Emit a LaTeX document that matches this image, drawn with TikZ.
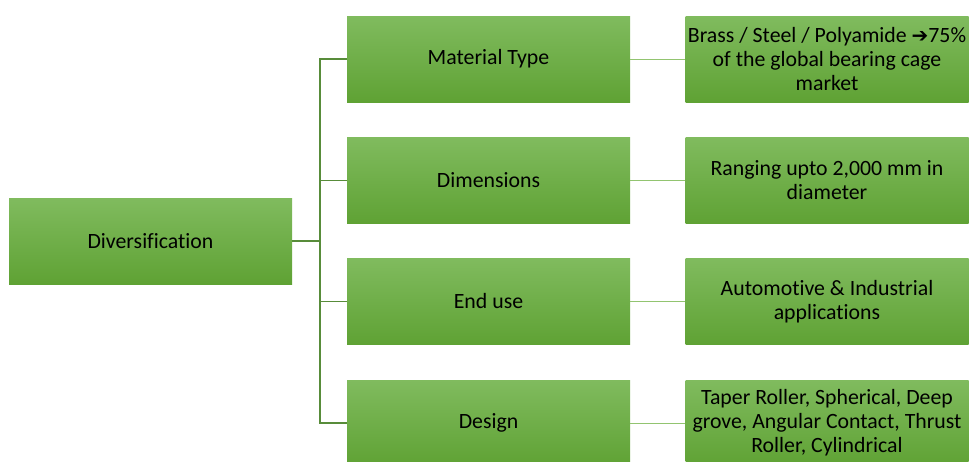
\documentclass[tikz,border=0pt]{standalone}
\usepackage{fontspec}
\setmainfont{Carlito}[Ligatures=CommonOff]
\newfontfamily\symfont{DejaVu Sans}
\definecolor{gtop}{RGB}{128,187,94}
\definecolor{gbot}{RGB}{95,162,52}
\definecolor{linedark}{RGB}{88,140,58}
\definecolor{linelight}{RGB}{146,196,112}
\begin{document}
\begin{tikzpicture}[x=1pt,y=-1pt,
  gbox/.style={minimum width=283pt,minimum height=86pt,inner sep=1pt,
    top color=gtop,bottom color=gbot,draw=none,align=center,
    font=\fontsize{21.8}{24}\selectfont,text=black},
  trunk/.style={draw=linedark,line width=1.6pt},
  twig/.style={draw=linelight,line width=1pt}]
\useasboundingbox (0,0) rectangle (969,461);
\clip (0,0) rectangle (969,461);
\node[gbox] (div) at (150.5,241) {Diversification};
\node[gbox] (m1) at (488.5,59) {Material Type};
\node[gbox] (m2) at (488.5,180.5) {Dimensions};
\node[gbox] (m3) at (488.5,301.5) {End use};
\node[gbox] (m4) at (488.5,423) {Design};
\node[gbox] (r1) at (827,59) {Brass / Steel / Polyamide {\symfont\fontsize{20}{24}\selectfont ➔}75\%\\of the global bearing cage\\market};
\node[gbox] (r2) at (827,180.5) {Ranging upto 2,000 mm in\\diameter};
\node[gbox] (r3) at (827,301.5) {Automotive \& Industrial\\applications};
\node[gbox] (r4) at (827,423) {Taper Roller, Spherical, Deep\\grove, Angular Contact, Thrust\\Roller, Cylindrical};
\coordinate (j) at (320,241);
\draw[trunk] (div.east) -- (j);
\draw[trunk] (m1.west) -| (j) |- (m4.west);
\draw[trunk] (j) |- (m2.west);
\draw[trunk] (j) |- (m3.west);
\draw[twig] (m1.east) -- (r1.west);
\draw[twig] (m2.east) -- (r2.west);
\draw[twig] (m3.east) -- (r3.west);
\draw[twig] (m4.east) -- (r4.west);
\end{tikzpicture}
\end{document}
